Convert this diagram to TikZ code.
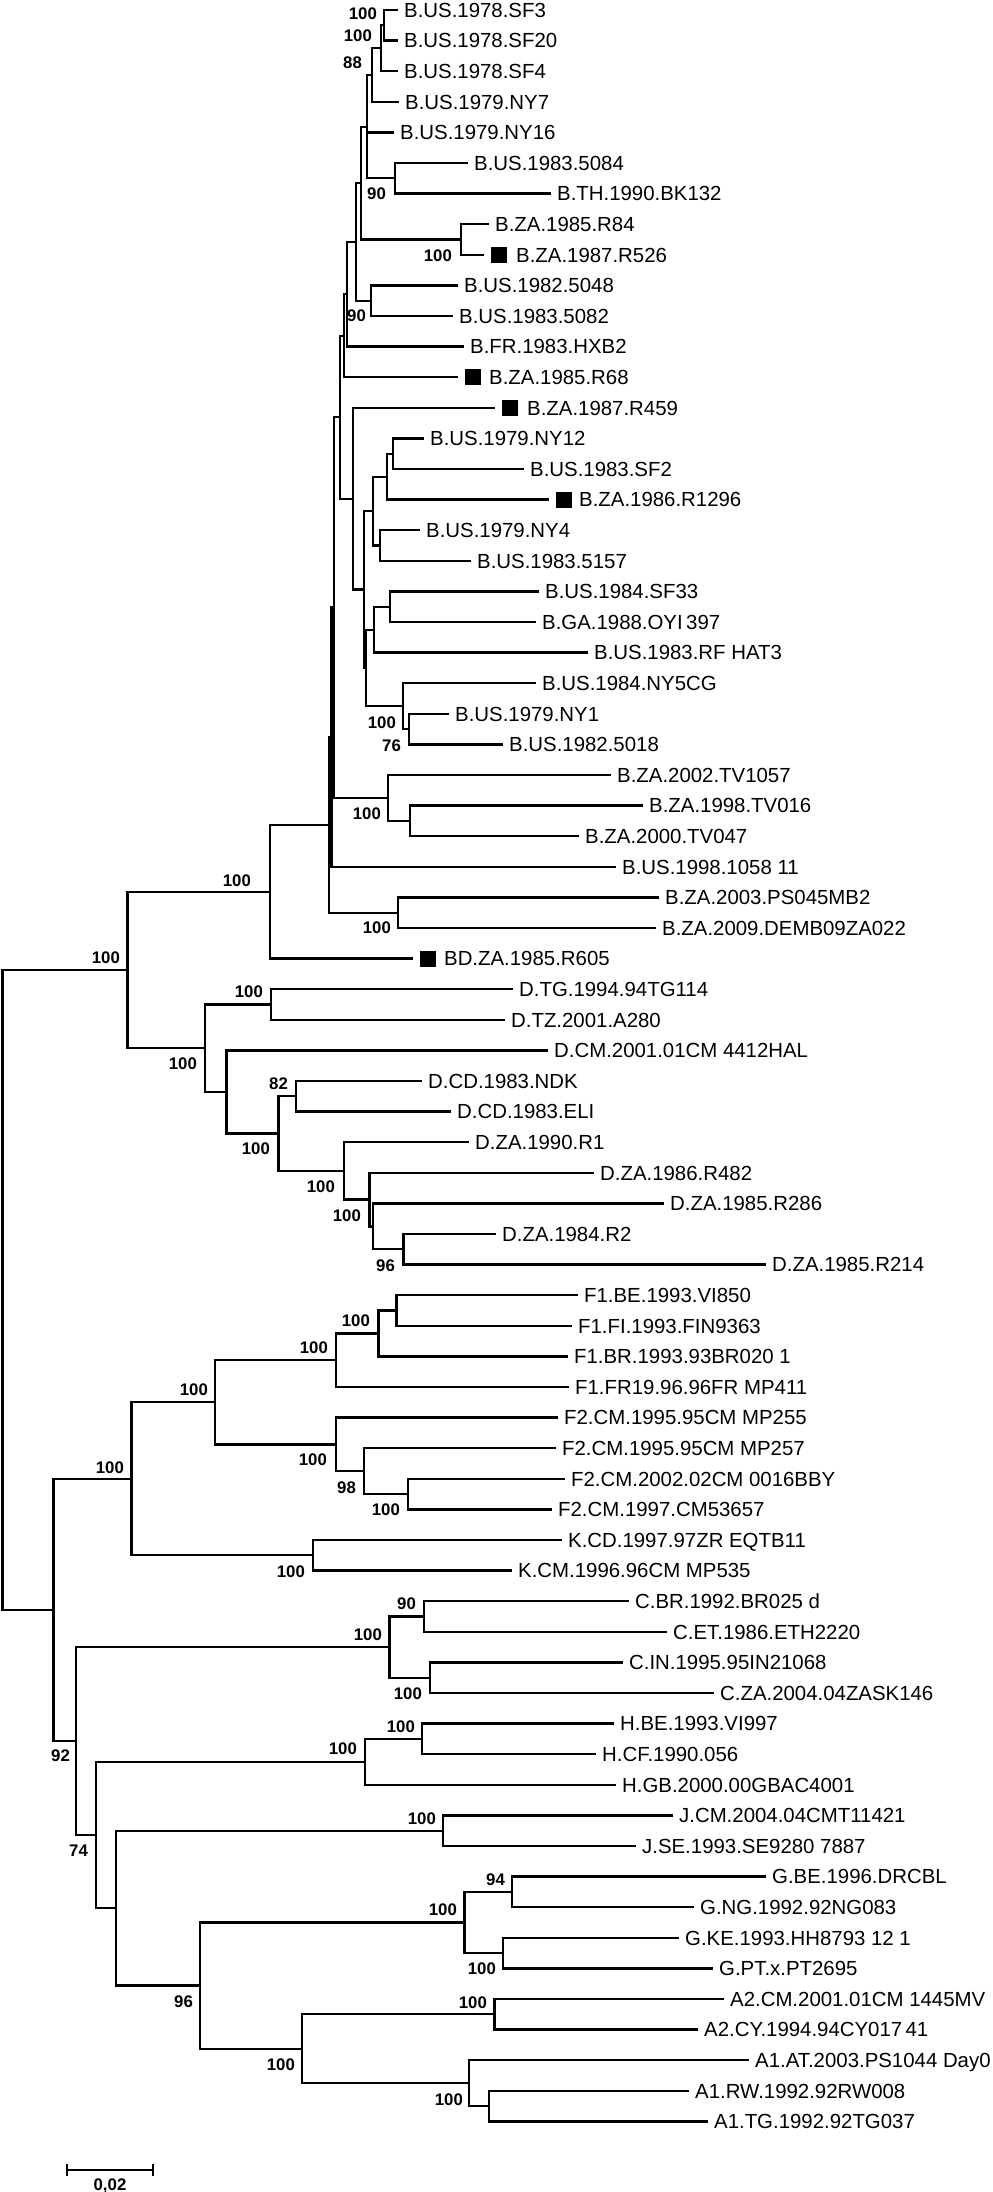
\documentclass[tikz,border=0pt]{standalone}
\usepackage{fontspec}
\setmainfont{Liberation Sans}
\usetikzlibrary{positioning,arrows.meta}

\tikzset{
    leaf/.style={anchor=west,inner sep=0pt,font=\fontsize{10.2}{12}\selectfont,text height=7.3pt,text depth=0pt},
    boot/.style={anchor=east,inner sep=0pt,font=\bfseries\fontsize{8.4}{10}\selectfont,text height=6pt,text depth=0pt},
    sqbox/.style={anchor=west,fill=black,inner sep=0pt,minimum size=8pt},
}

\begin{document}
\begin{tikzpicture}[x=0.5pt,y=-0.5pt]
    \useasboundingbox (0,0) rectangle (992,2192);
    \begin{scope}[line width=1.15pt,line cap=rect]

        % leaves: index / branch end / label gap / name
        \foreach \i/\x/\g/\name in {%
            1/397/3pt/B.US.1978.SF3, 2/397/3pt/B.US.1978.SF20, 3/397/3pt/B.US.1978.SF4,
            4/398/3pt/B.US.1979.NY7, 5/393/3pt/B.US.1979.NY16, 6/467/3pt/B.US.1983.5084,
            7/550/3pt/B.TH.1990.BK132, 8/488/3pt/B.ZA.1985.R84, 9/483/16pt/B.ZA.1987.R526,
            10/457/3pt/B.US.1982.5048, 11/452/3pt/B.US.1983.5082, 12/463/3pt/B.FR.1983.HXB2,
            13/457/15.5pt/B.ZA.1985.R68, 14/494/16pt/B.ZA.1987.R459, 15/423/3pt/B.US.1979.NY12,
            16/523/3pt/B.US.1983.SF2, 17/548/15pt/B.ZA.1986.R1296, 18/419/3pt/B.US.1979.NY4,
            19/470/3pt/B.US.1983.5157, 20/538/3pt/B.US.1984.SF33, 21/535/3pt/{B.GA.1988.OYI\,397},
            22/587/3pt/{B.US.1983.RF HAT3}, 23/535/3pt/B.US.1984.NY5CG, 24/448/3pt/B.US.1979.NY1,
            25/502/3pt/B.US.1982.5018, 26/610/3pt/B.ZA.2002.TV1057, 27/642/3pt/B.ZA.1998.TV016,
            28/578/3pt/B.ZA.2000.TV047, 29/615/3pt/{B.US.1998.1058 11}, 30/658/3pt/B.ZA.2003.PS045MB2,
            31/655/3pt/B.ZA.2009.DEMB09ZA022, 32/412/15.5pt/BD.ZA.1985.R605,
            33/512/3pt/D.TG.1994.94TG114, 34/504/3pt/D.TZ.2001.A280, 35/547/3pt/{D.CM.2001.01CM 4412HAL},
            36/421/3pt/D.CD.1983.NDK, 37/450/3pt/D.CD.1983.ELI, 38/468/3pt/D.ZA.1990.R1,
            39/593/3pt/D.ZA.1986.R482, 40/663/3pt/D.ZA.1985.R286, 41/495/3pt/D.ZA.1984.R2,
            42/765/3pt/D.ZA.1985.R214,
            43/577/3pt/F1.BE.1993.VI850, 44/571/3pt/F1.FI.1993.FIN9363, 45/567/3pt/{F1.BR.1993.93BR020 1},
            46/568/3pt/{F1.FR19.96.96FR MP411}, 47/557/3pt/{F2.CM.1995.95CM MP255},
            48/555/3pt/{F2.CM.1995.95CM MP257}, 49/564/3pt/{F2.CM.2002.02CM 0016BBY},
            50/551/3pt/F2.CM.1997.CM53657, 51/561/3pt/{K.CD.1997.97ZR EQTB11},
            52/511/3pt/{K.CM.1996.96CM MP535},
            53/628/3pt/{C.BR.1992.BR025 d}, 54/666/3pt/C.ET.1986.ETH2220, 55/622/3pt/C.IN.1995.95IN21068,
            56/713/3pt/C.ZA.2004.04ZASK146, 57/613/3pt/H.BE.1993.VI997, 58/595/3pt/H.CF.1990.056,
            59/615/3pt/H.GB.2000.00GBAC4001, 60/672/3pt/J.CM.2004.04CMT11421,
            61/635/3pt/{J.SE.1993.SE9280 7887}, 62/765/3pt/G.BE.1996.DRCBL, 63/693/3pt/G.NG.1992.92NG083,
            64/678/3pt/{G.KE.1993.HH8793 12 1}, 65/712/3pt/G.PT.x.PT2695,
            66/723/3pt/{A2.CM.2001.01CM 1445MV}, 67/697/3pt/{A2.CY.1994.94CY017\,41},
            68/748/3pt/{A1.AT.2003.PS1044 Day0}, 69/688/3pt/A1.RW.1992.92RW008,
            70/707/3pt/A1.TG.1992.92TG037}{%
            \coordinate (l\i) at (\x,{10+(\i-1)*30.6});
            \node [leaf,right=\g of l\i] (t\i) {\name};
        }

        \foreach \i in {9,13,14,17,32}{%
            \node [sqbox,right=3.5pt of l\i] (s\i) {};
        }

        % internal nodes
        \foreach \n/\x/\y in {%
            n1/384/25.3, n2/381/48.3, n3/372/75.0, n5/395/178.3, n4/367/126.7,
            n7/461/239.5, n6/361/183.1, n9/371/300.7, n8/356/241.9, n10/347/294.3,
            n11/344/335.7, p1/393/453.7, p2/387/476.7, p3/380/545.5, pa/373/511.1,
            q1/390/606.7, qc/374/629.7, r1/409/729.1, rb/403/706.2, n16/366/667.9,
            n14/364/589.5, n13/353/498.7, n12/340/417.2, tv1/410/820.9, tv/388/798.0,
            ny/334/607.6, nx/331.5/737.2, ps/398/912.7, bc/329/825.0, bt/270/891.8,
            d1/271/1004.5, d2/296/1096.3, d5/403.5/1249.3, d4b/373/1226.4, d4/369.5/1199.6,
            d3/344/1170.9, dz/278.5/1133.6, ds/226.5/1092.0, dr/205/1048.3, bd/127.5/970.0,
            f1/396.4/1310.5, f2/378.6/1333.5, f3/335.7/1360.2, g3/408/1494.1, g2/364/1471.2,
            g1/335.7/1444.4, ff/215/1402.3, kk/313/1555.3, fk/131.4/1478.8,
            c1a/424.3/1616.5, c2a/430/1677.7, cc/389.5/1647.1, h1/422.3/1738.9, hh/365/1761.9,
            jj/443/1830.7, g1a/512/1891.9, g2a/502.8/1953.1, gg/464.6/1922.5,
            aa2/494.5/2014.3, aa1b/489/2106.1, aa1/469/2083.2, aa/302/2048.7, ga/199.7/1985.6,
            m4/115.7/1908.2, m3/96.2/1835.0, m2/76.3/1741.0, m1/53.4/1609.9, root/2.5/1290.0}{%
            \coordinate (\n) at (\x,\y);
        }

        % branches
        \foreach \p/\c in {%
            n1/l1, n1/l2, n2/n1, n2/l3, n3/n2, n3/l4, n4/n3, n4/l5, n4/n5, n5/l6, n5/l7,
            n6/n4, n6/n7, n7/l8, n7/l9, n8/n6, n8/n9, n9/l10, n9/l11, n10/n8, n10/l12,
            n11/n10, n11/l13, n12/n11, n12/n13, n13/l14, n13/n14, n14/pa, n14/n16,
            pa/p2, pa/p3, p2/p1, p2/l17, p1/l15, p1/l16, p3/l18, p3/l19,
            n16/qc, n16/rb, qc/q1, qc/l22, q1/l20, q1/l21, rb/l23, rb/r1, r1/l24, r1/l25,
            ny/n12, ny/tv, tv/l26, tv/tv1, tv1/l27, tv1/l28, nx/ny, nx/l29,
            bc/nx, bc/ps, ps/l30, ps/l31, bt/bc, bt/l32,
            d1/l33, d1/l34, dr/d1, dr/ds, ds/l35, ds/dz, dz/d2, dz/d3, d2/l36, d2/l37,
            d3/l38, d3/d4, d4/l39, d4/d4b, d4b/l40, d4b/d5, d5/l41, d5/l42, bd/bt, bd/dr,
            f1/l43, f1/l44, f2/f1, f2/l45, f3/f2, f3/l46, ff/f3, ff/g1, g1/l47, g1/g2,
            g2/l48, g2/g3, g3/l49, g3/l50, kk/l51, kk/l52, fk/ff, fk/kk,
            c1a/l53, c1a/l54, c2a/l55, c2a/l56, cc/c1a, cc/c2a, h1/l57, h1/l58, hh/h1, hh/l59,
            jj/l60, jj/l61, g1a/l62, g1a/l63, g2a/l64, g2a/l65, gg/g1a, gg/g2a,
            aa2/l66, aa2/l67, aa1b/l69, aa1b/l70, aa1/l68, aa1/aa1b, aa/aa2, aa/aa1,
            ga/gg, ga/aa, m4/jj, m4/ga, m3/hh, m3/m4, m2/cc, m2/m3, m1/fk, m1/m2,
            root/bd, root/m1}{%
            \draw (\p) |- (\c);
        }

        % bootstrap values
        \foreach \x/\y/\v [count=\k] in {%
            378/13/100, 373/35/100, 363/62/88, 387/193/90, 453/255/100, 367/315/90,
            397/722/100, 402/745/76, 382/813/100, 392/927/100, 252/880/100, 121/957/100,
            264/991/100, 198/1063/100, 271/1148/100, 289/1083/82, 336/1186/100,
            362/1215/100, 396/1265/96,
            371/1320/100, 329/1347/100, 209/1389/100, 328/1459/100, 357/1487/98,
            401/1509/100, 125/1467/100, 306/1571/100,
            417/1603/90, 383/1634/100, 423/1693/100, 71/1755/92, 416/1726/100,
            358/1748/100, 89/1850/74, 437/1818/100, 506/1879/94, 458/1909/100,
            497/1968/100, 194/2001/96, 488/2002/100, 296/2064/100, 464/2099/100}{%
            \node [boot] (bs\k) at (\x,\y) {\v};
        }

        \coordinate (sb0) at (66,2170);
        \coordinate (sb1) at (154,2170);
        \draw [{Bar[width=6pt]}-{Bar[width=6pt]}] (sb0) -- (sb1);
        \node [boot,anchor=center] (sbl) at (110,2184) {0,02};
    \end{scope}
\end{tikzpicture}
\end{document}
